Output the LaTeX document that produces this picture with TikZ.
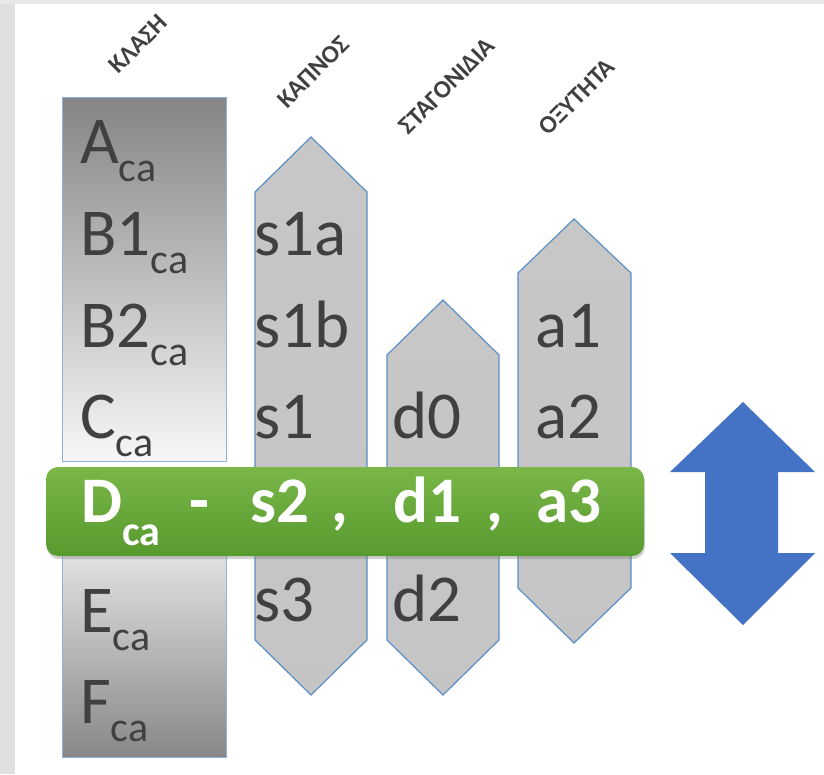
\documentclass[tikz,border=0pt]{standalone}
\usepackage{fontspec}
\setmainfont{Carlito}
\usetikzlibrary{shadows}

\definecolor{txtgray}{HTML}{404040}
\definecolor{edgeblue}{HTML}{5B8FC9}
\definecolor{boxedge}{HTML}{8DB3DD}
\definecolor{arrowblue}{HTML}{4472C4}
\definecolor{bartop}{HTML}{7AB648}
\definecolor{barbot}{HTML}{579A2E}

% subscript "ca" used after the class letters
\newcommand\subca[2]{\raisebox{#1}{\fontsize{42}{42}\selectfont #2}}

\begin{document}
\begin{tikzpicture}[x=1pt,y=-1pt,
  pentcol/.style={draw=edgeblue, line width=1.2pt,
    top color=black!22, middle color=black!9, bottom color=black!23},
  rowtxt/.style={anchor=base west, inner sep=0pt, text=txtgray,
    font=\fontsize{67}{67}\selectfont},
  headtxt/.style={rotate=45, inner sep=0pt, text=txtgray,
    font=\bfseries\fontsize{25}{25}\selectfont},
  bartxt/.style={anchor=base west, inner sep=0pt, text=white,
    font=\bfseries\fontsize{65}{65}\selectfont}]

\path[use as bounding box] (0,0) rectangle (824,774);
\fill[white] (0,0) rectangle (824,774);

% soft grey edge of the slide background
\fill[black!12] (0,0) rectangle (15,774);
\fill[black!9] (0,0) rectangle (824,4);

% column headings
\node[headtxt] (hklasi) at (138,44) {ΚΛΑΣΗ};
\node[headtxt] (hkapnos) at (313,72) {ΚΑΠΝΟΣ};
\node[headtxt] (hstag) at (447,86) {ΣΤΑΓΟΝΙΔΙΑ};
\node[headtxt] (hoxyt) at (577,97) {ΟΞΥΤΗΤΑ};

% class column: upper and lower parts
\shade[draw=boxedge, line width=1pt, top color=black!48, bottom color=black!3]
  (62,97) rectangle (226,461);
\shade[draw=boxedge, line width=1pt, top color=black!2, bottom color=black!47]
  (62,500) rectangle (226,757);

% pointed columns (smoke, droplets, acidity)
\shade[pentcol] (255,192) -- (311,137) -- (367,192) -- (367,640) -- (311,695) -- (255,640) -- cycle;
\shade[pentcol] (387,355) -- (443,300) -- (499,355) -- (499,640) -- (443,695) -- (387,640) -- cycle;
\shade[pentcol] (518,273) -- (574,219) -- (631,273) -- (631,588) -- (574,643) -- (518,588) -- cycle;

% class labels
\node[rowtxt] (ca) at (80,163) {A\subca{-18pt}{ca}};
\node[rowtxt] (cb1) at (80,255) {B1\subca{-18pt}{ca}};
\node[rowtxt] (cb2) at (80,347) {B2\subca{-18pt}{ca}};
\node[rowtxt] (cc) at (80,438) {C\subca{-18pt}{ca}};
\node[rowtxt] (ce) at (80,632) {E\subca{-18pt}{ca}};
\node[rowtxt] (cf) at (80,723) {F\subca{-18pt}{ca}};

% smoke labels
\node[rowtxt] (s1a) at (254,255) {s1a};
\node[rowtxt] (s1b) at (254,347) {s1b};
\node[rowtxt] (s1) at (254,438) {s1};
\node[rowtxt] (s3) at (254,621) {s3};

% droplet labels
\node[rowtxt] (d0) at (392,438) {d0};
\node[rowtxt] (d2) at (392,621) {d2};

% acidity labels
\node[rowtxt] (a1) at (535,347) {a1};
\node[rowtxt] (a2) at (535,438) {a2};

% highlighted class bar
\shade[rounded corners=12pt, top color=bartop, bottom color=barbot,
  drop shadow={opacity=0.35, shadow xshift=1pt, shadow yshift=-3pt}]
  (46,467) rectangle (644,556);
\node[bartxt] (bd) at (81,522) {D\subca{-23pt}{ca}};
\node[bartxt] (bdash) at (189,522) {-};
\node[bartxt] (bs2) at (250,522) {s2};
\node[bartxt] (bc1) at (331,522) {,};
\node[bartxt] (bd1) at (393,522) {d1};
\node[bartxt] (bc2) at (486,522) {,};
\node[bartxt] (ba3) at (536,522) {a3};

% double-headed arrow
\fill[arrowblue] (743,402) -- (815,472) -- (778,472) -- (778,553) -- (815,553)
  -- (743,625) -- (670,553) -- (705,553) -- (705,472) -- (670,472) -- cycle;

\end{tikzpicture}
\end{document}
